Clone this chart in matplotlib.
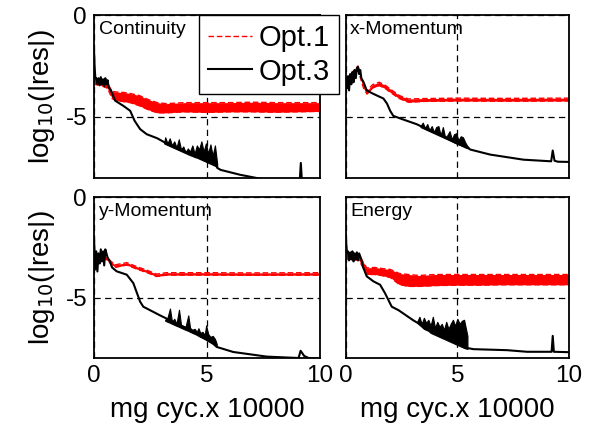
import matplotlib
matplotlib.use('Agg')
import matplotlib.pyplot as plt

plt.rcParams['font.family'] = ['Liberation Sans', 'DejaVu Sans']
plt.rcParams['axes.unicode_minus'] = False

titles = ['Continuity', 'x-Momentum', 'y-Momentum', 'Energy']

# ---- Continuity ----
cont_x3 = [0.0, 0.03, 0.06, 0.1, 0.15, 0.2, 0.25, 0.3, 0.35, 0.4, 0.45, 0.5, 0.55, 0.6, 0.65,
           0.75, 0.93, 1.3, 1.6, 1.8, 2.04, 2.33, 2.8, 3.2, 4.25, 5.35, 5.45, 5.6, 6.46,
           7.2, 7.6, 9.1, 9.15, 9.2, 10.0]
cont_y3 = [-1.7, -2.6, -3.1, -3.1, -3.4, -3.1, -3.45, -3.05, -3.4, -3.15, -3.5, -3.1, -3.4, -3.2, -3.55,
           -3.7, -4.2, -4.46, -4.7, -5.2, -5.6, -5.85, -6.05, -6.3, -6.8, -7.2, -7.5, -7.6, -7.84,
           -8.0, -8.1, -8.2, -7.26, -8.2, -8.2]
cont_nx = [3.1, 3.15, 3.25, 3.35, 3.45, 3.55, 3.65, 3.75, 3.85, 3.95, 4.05, 4.15, 4.25,
           4.35, 4.45, 4.55, 4.65, 4.75, 4.85, 4.95, 5.05, 5.15, 5.25, 5.35, 5.45]
cont_nhi = [-6.3, -6.0, -6.3, -6.05, -6.4, -6.2, -6.5, -6.1, -6.6, -6.45, -6.75, -6.55, -6.7,
            -6.4, -6.8, -6.4, -6.6, -6.2, -6.7, -6.3, -6.8, -6.35, -6.9, -6.4, -7.3]
cont_nlo = [-6.3, -6.33, -6.38, -6.43, -6.48, -6.53, -6.58, -6.63, -6.68, -6.73, -6.78, -6.83, -6.88,
            -6.92, -6.97, -7.0, -7.05, -7.1, -7.15, -7.2, -7.25, -7.3, -7.35, -7.4, -7.45]
cont_x1 = [0.0, 0.3, 0.6, 0.8, 1.0, 1.3, 1.6, 2.0, 2.4, 2.8, 3.2, 4.0, 5.0, 6.0, 7.0, 8.0, 9.0, 10.0]
cont_hi1 = [-3.1, -3.15, -3.35, -3.75, -3.78, -3.8, -3.85, -3.95, -4.15, -4.3, -4.35, -4.3, -4.3,
            -4.3, -4.28, -4.3, -4.3, -4.3]
cont_lo1 = [-3.4, -3.45, -3.6, -4.1, -4.2, -4.25, -4.3, -4.45, -4.65, -4.8, -4.8, -4.75, -4.78,
            -4.75, -4.75, -4.77, -4.75, -4.73]

# ---- x-Momentum ----
xm_x3 = [0.0, 0.05, 0.1, 0.15, 0.2, 0.25, 0.3, 0.35, 0.4, 0.45, 0.5, 0.55, 0.6, 0.65, 0.7, 0.8,
         0.94, 1.2, 1.69, 1.85, 1.99, 2.13, 2.5, 3.18, 3.35, 4.2, 4.97, 5.48, 5.57, 6.47, 7.96,
         9.2, 9.27, 9.35, 9.5, 10.0]
xm_y3 = [-3.1, -3.6, -3.0, -3.7, -2.9, -3.4, -2.8, -3.3, -2.7, -3.1, -2.6, -2.55, -2.9, -2.7, -3.1, -3.3,
         -3.7, -3.85, -4.1, -4.35, -4.7, -4.95, -5.1, -5.36, -5.45, -5.85, -6.3, -6.5, -6.6, -6.85, -7.1,
         -7.18, -6.65, -7.15, -7.2, -7.21]
xm_nx = [3.35, 3.45, 3.55, 3.65, 3.75, 3.85, 3.95, 4.05, 4.15, 4.25, 4.35, 4.45, 4.55, 4.65,
         4.75, 4.85, 4.95, 5.05, 5.15, 5.25, 5.35, 5.48]
xm_nhi = [-5.45, -5.28, -5.55, -5.35, -5.65, -5.45, -5.75, -5.5, -5.45, -5.9, -5.5, -6.0, -5.9, -5.7,
          -6.1, -5.85, -5.8, -6.15, -5.95, -6.0, -6.25, -6.5]
xm_nlo = [-5.5, -5.55, -5.6, -5.65, -5.7, -5.75, -5.8, -5.85, -5.9, -5.95, -6.0, -6.05, -6.1, -6.15,
          -6.2, -6.25, -6.3, -6.35, -6.4, -6.45, -6.5, -6.55]
xm_x1 = [0.0, 0.3, 0.55, 0.8, 0.95, 1.2, 1.5, 1.8, 2.0, 2.4, 2.8, 3.5, 5.0, 7.0, 10.0]
xm_hi1 = [-3.2, -2.8, -2.5, -3.4, -3.72, -3.42, -3.3, -3.47, -3.64, -3.95, -4.12, -4.1, -4.08, -4.09, -4.08]
xm_lo1 = [-3.4, -3.0, -2.7, -3.6, -3.88, -3.58, -3.46, -3.63, -3.8, -4.1, -4.28, -4.24, -4.22, -4.23, -4.22]

# ---- y-Momentum ----
ym_x3 = [0.0, 0.05, 0.1, 0.15, 0.2, 0.25, 0.3, 0.35, 0.4, 0.45, 0.5, 0.55, 0.6, 0.7, 0.8, 1.0,
         1.45, 1.74, 2.04, 2.18, 2.92, 3.5, 4.4, 5.28, 5.43, 6.16, 7.64, 9.05, 9.14, 9.3, 9.5, 10.0]
ym_y3 = [-2.0, -3.6, -2.7, -3.7, -2.8, -3.3, -2.6, -3.2, -2.7, -3.4, -2.6, -2.8, -3.0, -3.2, -3.5, -3.69,
         -3.86, -4.28, -5.2, -5.45, -5.88, -6.2, -6.7, -7.3, -7.45, -7.7, -7.93, -8.0, -7.64, -7.9, -8.0, -8.03]
ym_nx = [3.15, 3.25, 3.36, 3.45, 3.55, 3.65, 3.76, 3.85, 3.95, 4.05, 4.17, 4.25, 4.35, 4.45,
         4.55, 4.62, 4.7, 4.8, 4.9, 4.96, 5.05, 5.15, 5.25, 5.35, 5.43]
ym_nhi = [-6.1, -6.0, -5.54, -6.2, -6.05, -6.3, -5.6, -6.35, -6.4, -6.45, -5.88, -6.5, -6.6, -6.55,
          -6.7, -6.52, -6.75, -6.7, -6.85, -6.38, -6.8, -6.95, -6.9, -7.05, -7.3]
ym_nlo = [-6.15, -6.2, -6.25, -6.3, -6.35, -6.4, -6.45, -6.5, -6.55, -6.6, -6.65, -6.7, -6.75, -6.8,
          -6.85, -6.9, -6.95, -7.0, -7.05, -7.08, -7.12, -7.18, -7.25, -7.3, -7.4]
ym_x1 = [0.0, 0.3, 0.6, 0.93, 1.45, 1.89, 2.33, 2.77, 3.2, 5.0, 7.0, 10.0]
ym_hi1 = [-2.94, -2.84, -3.04, -3.37, -3.26, -3.46, -3.63, -3.83, -3.76, -3.76, -3.77, -3.76]
ym_lo1 = [-3.06, -2.96, -3.16, -3.49, -3.38, -3.58, -3.75, -3.95, -3.88, -3.88, -3.89, -3.88]

# ---- Energy ----
en_x3 = [0.0, 0.05, 0.1, 0.15, 0.2, 0.25, 0.3, 0.35, 0.4, 0.45, 0.5, 0.55, 0.6, 0.7, 0.79, 0.94,
         1.24, 1.54, 1.76, 2.06, 2.36, 3.03, 3.93, 4.83, 5.43, 5.72, 7.22, 8.12, 9.22, 9.27, 9.32, 10.0]
en_y3 = [-1.84, -2.76, -2.7, -3.15, -2.75, -3.1, -2.7, -3.2, -2.8, -3.1, -2.75, -3.15, -2.8, -3.1, -3.52, -3.94,
         -4.19, -4.36, -4.78, -5.45, -5.62, -6.13, -6.72, -7.14, -7.5, -7.56, -7.61, -7.69, -7.69, -6.9, -7.69, -7.71]
en_nx = [3.2, 3.3, 3.4, 3.5, 3.6, 3.7, 3.8, 3.9, 4.0, 4.1, 4.2, 4.3, 4.4, 4.5, 4.6, 4.7,
         4.8, 4.9, 5.0, 5.1, 5.2, 5.3, 5.45]
en_nhi = [-6.2, -5.95, -6.3, -6.0, -6.25, -6.1, -6.4, -5.95, -6.5, -6.2, -6.45, -6.3, -6.6, -6.2, -6.55, -6.3,
          -6.1, -6.4, -6.05, -6.3, -6.15, -6.1, -6.9]
en_nlo = [-6.25, -6.35, -6.45, -6.55, -6.6, -6.65, -6.75, -6.8, -6.85, -6.9, -6.95, -7.0, -7.05, -7.1, -7.15, -7.2,
          -7.25, -7.3, -7.35, -7.4, -7.45, -7.5, -7.55]
en_x1 = [0.0, 0.3, 0.6, 0.94, 1.3, 1.6, 2.0, 2.4, 2.8, 3.3, 4.0, 5.0, 6.0, 7.0, 8.0, 9.0, 10.0]
en_hi1 = [-2.8, -2.8, -2.9, -3.52, -3.5, -3.55, -3.6, -3.8, -3.85, -3.9, -3.85, -3.85, -3.85, -3.85, -3.85, -3.85, -3.85]
en_lo1 = [-3.1, -3.1, -3.15, -3.85, -3.85, -3.9, -4.0, -4.35, -4.44, -4.44, -4.4, -4.38, -4.38, -4.36, -4.36, -4.36, -4.36]

panels = [
    (cont_x3, cont_y3, cont_nx, cont_nlo, cont_nhi, cont_x1, cont_lo1, cont_hi1),
    (xm_x3, xm_y3, xm_nx, xm_nlo, xm_nhi, xm_x1, xm_lo1, xm_hi1),
    (ym_x3, ym_y3, ym_nx, ym_nlo, ym_nhi, ym_x1, ym_lo1, ym_hi1),
    (en_x3, en_y3, en_nx, en_nlo, en_nhi, en_x1, en_lo1, en_hi1),
]

fig = plt.figure(figsize=(5.92, 4.30), dpi=100)
boxes = [[0.1588, 0.5860, 0.3818, 0.3791], [0.5840, 0.5860, 0.3772, 0.3791],
         [0.1588, 0.1674, 0.3818, 0.3744], [0.5840, 0.1674, 0.3772, 0.3744]]

for i, (x3, y3, nx, nlo, nhi, x1, lo1, hi1) in enumerate(panels):
    ax = fig.add_axes(boxes[i])
    # Opt.1 (red dashed, noisy band)
    ax.fill_between(x1, lo1, hi1, color='red', lw=0, zorder=2)
    ax.plot(x1, hi1, color='red', ls='--', lw=1.0, dashes=(4, 2), label='Opt.1', zorder=2)
    ax.plot(x1, lo1, color='red', ls='--', lw=1.0, dashes=(4, 2), zorder=2)
    # Opt.3 (black solid)
    ax.fill_between(nx, nlo, nhi, color='black', lw=0.8, edgecolor='black', zorder=3)
    ax.plot(x3, y3, color='black', lw=1.5, label='Opt.3', zorder=3)

    ax.set_xlim(0, 10)
    ax.set_ylim(-8, 0)
    ax.set_xticks([0, 5, 10])
    ax.set_yticks([-5, 0])
    ax.grid(True, color='black', ls='--', lw=0.9, dashes=(5, 3.5))
    ax.tick_params(length=0, labelsize=17.5, pad=5)
    for s in ax.spines.values():
        s.set_linewidth(1.3)
        s.set_zorder(4)
    if i < 2:
        ax.tick_params(labelbottom=False)
    else:
        ax.set_xlabel('mg cyc.x 10000', fontsize=20, labelpad=7)
    if i % 2 == 1:
        ax.tick_params(labelleft=False)
    else:
        ax.set_ylabel('log$_{10}$(|res|)', fontsize=20, labelpad=6)
    ax.text(0.02, 0.965, titles[i], transform=ax.transAxes, fontsize=14,
            va='top', ha='left')
    if i == 0:
        leg = ax.legend(loc='upper left', bbox_to_anchor=(0.465, 1.0), borderaxespad=0,
                        fontsize=21, handlelength=1.5, handletextpad=0.25,
                        labelspacing=0.2, borderpad=0.3, fancybox=False,
                        framealpha=1, edgecolor='black')
        leg.get_frame().set_linewidth(1.0)
        leg.set_zorder(5)

fig.savefig('out.png', dpi=100)
